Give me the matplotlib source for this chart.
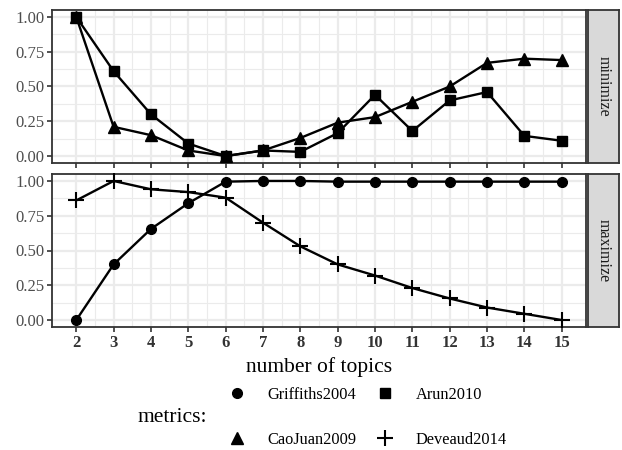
import numpy as np
import matplotlib
matplotlib.use('Agg')
import matplotlib.pyplot as plt
from matplotlib.lines import Line2D

plt.rcParams['font.family'] = ['Liberation Serif', 'DejaVu Serif']

topics = [2, 3, 4, 5, 6, 7, 8, 9, 10, 11, 12, 13, 14, 15]
arun2010 = [1.00, 0.61, 0.30, 0.09, 0.00, 0.04, 0.03, 0.165, 0.44, 0.18, 0.40, 0.46, 0.145, 0.11]
caojuan2009 = [1.00, 0.21, 0.15, 0.04, 0.00, 0.04, 0.13, 0.24, 0.28, 0.39, 0.50, 0.67, 0.70, 0.69]
griffiths2004 = [0.00, 0.40, 0.655, 0.84, 0.995, 1.00, 1.00, 0.995, 0.995, 0.995, 0.995, 0.995, 0.995, 0.995]
deveaud2014 = [0.86, 1.00, 0.94, 0.92, 0.88, 0.70, 0.53, 0.40, 0.32, 0.23, 0.155, 0.09, 0.045, 0.00]
yticks = [0.00, 0.25, 0.50, 0.75, 1.00]

W, H = 622, 450
fig = plt.figure(figsize=(W / 100, H / 100), dpi=100)

def box(l, t, r, b):
    return [l / W, 1 - b / H, (r - l) / W, (b - t) / H]

def style_panel(ax, show_x):
    ax.set_xlim(1.35, 15.65)
    ax.set_ylim(-0.05, 1.05)
    ax.set_xticks(topics)
    ax.set_xticks(np.array(topics[:-1]) + 0.5, minor=True)
    ax.set_yticks(yticks)
    ax.set_yticks(np.array(yticks[:-1]) + 0.125, minor=True)
    ax.set_yticklabels(['%.2f' % v for v in yticks])
    ax.grid(which='major', color='#EBEBEB', lw=1.6, zorder=0)
    ax.grid(which='minor', color='#EBEBEB', lw=0.8, zorder=0)
    ax.set_axisbelow(True)
    for s in ax.spines.values():
        s.set_color('#333333')
        s.set_linewidth(1.3)
    ax.tick_params(which='major', length=3.5, width=1.2, color='#333333', labelsize=12, pad=2)
    ax.tick_params(which='minor', length=0)
    ax.tick_params(axis='y', labelcolor='#4D4D4D')
    if show_x:
        ax.tick_params(axis='x', labelcolor='#333333')
        for t in ax.get_xticklabels():
            t.set_fontweight('bold')
    else:
        ax.tick_params(axis='x', labelbottom=False)

def strip(t, b, label):
    sa = fig.add_axes(box(588, t, 619, b))
    sa.set_facecolor('#D9D9D9')
    sa.set_xticks([])
    sa.set_yticks([])
    for s in sa.spines.values():
        s.set_color('#333333')
        s.set_linewidth(1.3)
    sa.text(0.5, 0.5, label, rotation=-90, ha='center', va='center',
            fontsize=11.5, color='#1A1A1A', transform=sa.transAxes)

line_kw = dict(color='black', lw=1.7, clip_on=False, zorder=3)

ax1 = fig.add_axes(box(52, 10, 586, 163))
ax1.plot(topics, arun2010, marker='s', ms=7.5, **line_kw)
ax1.plot(topics, caojuan2009, marker='^', ms=8.5, **line_kw)
style_panel(ax1, False)
strip(10, 163, 'minimize')

ax2 = fig.add_axes(box(52, 174, 586, 327))
ax2.plot(topics, griffiths2004, marker='o', ms=7, **line_kw)
ax2.plot(topics, deveaud2014, marker='+', ms=12, mew=1.5, **line_kw)
style_panel(ax2, True)
strip(174, 327, 'maximize')

ax2.set_xlabel('number of topics', fontsize=15.5, labelpad=5)

handles = [
    Line2D([], [], ls='none', marker='o', ms=7, color='black'),
    Line2D([], [], ls='none', marker='^', ms=8.5, color='black'),
    Line2D([], [], ls='none', marker='s', ms=7.5, color='black'),
    Line2D([], [], ls='none', marker='+', ms=12, mew=1.5, color='black'),
]
labels = ['Griffiths2004', 'CaoJuan2009', 'Arun2010', 'Deveaud2014']
fig.legend(handles, labels, ncol=2, loc='center',
           bbox_to_anchor=(367 / W, 1 - 417.5 / H), frameon=False,
           fontsize=11.8, labelspacing=1.75, handlelength=1.2,
           handletextpad=1.25, columnspacing=1.15)
fig.text(137 / W, 1 - 418 / H, 'metrics:', fontsize=15.5, ha='left', va='center')

fig.savefig('out.png', dpi=100)
